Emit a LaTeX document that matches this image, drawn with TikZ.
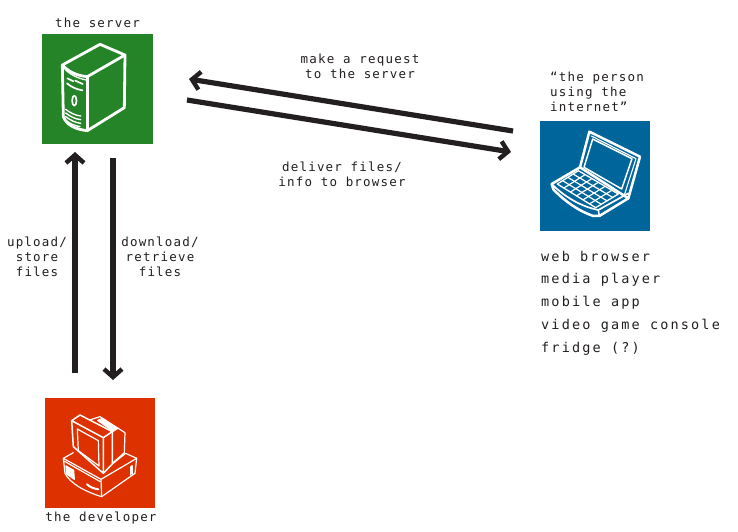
\documentclass[tikz,border=0pt]{standalone}
\usepackage{fontspec}
\usetikzlibrary{arrows.meta,calc}
\newfontfamily\smallfam[LetterSpace=9.6]{DejaVu Sans Mono}
\newfontfamily\bigfam[LetterSpace=16]{DejaVu Sans Mono}
\definecolor{ink}{HTML}{231F20}
\definecolor{srvgreen}{HTML}{258427}
\definecolor{lapblue}{HTML}{00659B}
\definecolor{devred}{HTML}{DD3100}
\tikzset{
  lbl/.style={inner sep=0pt,text=ink,align=center,font=\smallfam\fontsize{12.5}{14.8}\selectfont},
  lblleft/.style={lbl,align=left},
  listing/.style={inner sep=0pt,text=ink,align=left,font=\bigfam\fontsize{13.5}{22.8}\selectfont},
  tile/.style={inner sep=0pt,minimum width=110.5pt,minimum height=110.5pt},
  flow/.style={draw=ink,line width=5.2pt,-{Straight Barb[length=8pt,width=18pt,line width=4.4pt]}},
  ico/.style={draw=white,line join=round,line cap=round},
}
\begin{document}
\begin{tikzpicture}[x=1pt,y=-1pt]
\useasboundingbox (0,0) rectangle (738,531);
\fill[white] (0,0) rectangle (738,531);
\node[tile,fill=srvgreen] (server) at (97.5,89) {};
\node[tile,fill=lapblue] (laptop) at (595,176) {};
\node[tile,fill=devred] (dev) at (100,453.2) {};
% server icon
\begin{scope}[shift={(30,10)},x=0.3333pt,y=-0.3333pt,ico]
 \draw[line width=2.8pt] (97,165) -- (210,103) -- (285,135) -- (283,293) -- (172,362) .. controls (135,358) and (110,345) .. (100,320) -- cycle;
 \draw[line width=2.8pt] (97,165) .. controls (115,185) and (140,197) .. (172,200) -- (285,135);
 \draw[line width=2.8pt] (172,200) -- (172,362);
 \draw[line width=1.3pt] (105,178) .. controls (122,195) and (145,205) .. (168,210);
 \draw[line width=1.7pt] (112,205) -- (130,214) (136,212) -- (158,222);
 \draw[line width=1.7pt] (111,220) .. controls (125,232) and (140,238) .. (157,241);
 \draw[line width=1.7pt] (133,272) ellipse (2.2pt and 5pt);
 \draw[line width=1.4pt] (107,298) .. controls (120,308) and (135,316) .. (152,318);
 \draw[line width=1.4pt] (107,309) .. controls (120,319) and (135,327) .. (152,329);
 \draw[line width=1.4pt] (107,320) .. controls (120,330) and (135,338) .. (152,340);
 \draw[line width=1.4pt] (107,331) .. controls (120,341) and (135,348) .. (150,350);
\end{scope}
% laptop icon
\begin{scope}[shift={(530,110)},x=0.3333pt,y=-0.3333pt,ico]
 \draw[line width=2.5pt] (150,172) -- (178,65) -- (330,140) -- (295,265);
 \draw[line width=1.1pt] (184,78) -- (318,146) -- (284,252);
 \draw[line width=1.5pt] (188,87) -- (306,146) -- (275,237) -- (162,172) -- cycle;
 \draw[line width=2.5pt] (150,172) -- (65,222) -- (70,238) .. controls (105,275) and (150,305) .. (190,318) -- (208,318) -- (295,265) -- (150,172);
 \draw[line width=1.7pt] (65,222) .. controls (105,262) and (155,290) .. (205,300) -- (295,250);
 \draw[line width=1.5pt] (205,300) -- (208,318);
 \draw[line width=1.3pt] (82,222) -- (145,182) -- (265,252) -- (197,293) -- cycle;
 \foreach \t in {0.25,0.5,0.75}{
  \draw[line width=1.2pt] ($(82,222)!\t!(145,182)$) -- ($(197,293)!\t!(265,252)$);
 }
 \foreach \t in {0.17,0.34,0.5,0.67,0.84}{
  \draw[line width=1.2pt] ($(82,222)!\t!(197,293)$) -- ($(145,182)!\t!(265,252)$);
 }
\end{scope}
% developer icon
\begin{scope}[shift={(35,390)},x=0.3333pt,y=-0.3333pt,ico,line width=1.2pt]
 \draw (85,205) -- (115,188) (232,222) -- (272,190) -- (305,205) -- (300,250) -- (200,320) .. controls (150,305) and (105,280) .. (90,250) -- (85,205);
 \draw (85,205) -- (198,268) -- (305,205) (198,268) -- (200,320);
 \draw (85,212) -- (196,275);
 \draw[fill=white] (93,228) -- (116,241) -- (118,268) -- (95,252) -- cycle;
 \draw[line width=2pt] (156,283) .. controls (165,292) and (178,296) .. (190,298);
 \draw[line width=1.2pt] (286,230) -- (286,255) (291,227) -- (291,252);
 \draw[line width=1.5pt] (110,92) -- (135,75) -- (232,125) -- (205,143) -- (110,92);
 \draw[line width=1.5pt] (110,92) -- (115,170) -- (205,250) -- (232,222) -- (232,125) (205,143) -- (205,250);
 \draw (163,90) -- (195,80) -- (270,128) -- (268,188) -- (232,220);
 \draw (127,117) -- (190,152) -- (192,228) -- (130,182) -- cycle;
 \draw[fill=white] (188,91) -- (203,85) -- (247,116) -- (234,124) -- cycle;
\end{scope}
% arrows
\coordinate (reqS) at (513,131);
\coordinate (reqE) at (189,79);
\coordinate (delS) at (187,100);
\coordinate (delE) at (511,152);
\coordinate (upS) at (75,373);
\coordinate (upE) at (75,152);
\coordinate (dnS) at (113,158);
\coordinate (dnE) at (113,380);
\draw[flow] (reqS) -- (reqE);
\draw[flow] (delS) -- (delE);
\draw[flow] (upS) -- (upE);
\draw[flow] (dnS) -- (dnE);
% labels
\node[lbl] (tsrv) at (97.5,23) {the server};
\node[lbl] (tdev) at (101,518) {the developer};
\node[lbl] (treq) at (360,66.5) {make a request\\to the server};
\node[lbl] (tdel) at (342,174.5) {deliver files/\\info to browser};
\node[lbl] (tup) at (37,257) {upload/\\store\\files};
\node[lbl] (tdn) at (160,257) {download/\\retrieve\\files};
\node[lblleft,anchor=west] (tper) at (550,92) {“the person\\using the\\internet”};
\node[listing,anchor=west] (tlist) at (541,303) {web browser\\media player\\mobile app\\video game console\\fridge (?)};
\end{tikzpicture}
\end{document}
